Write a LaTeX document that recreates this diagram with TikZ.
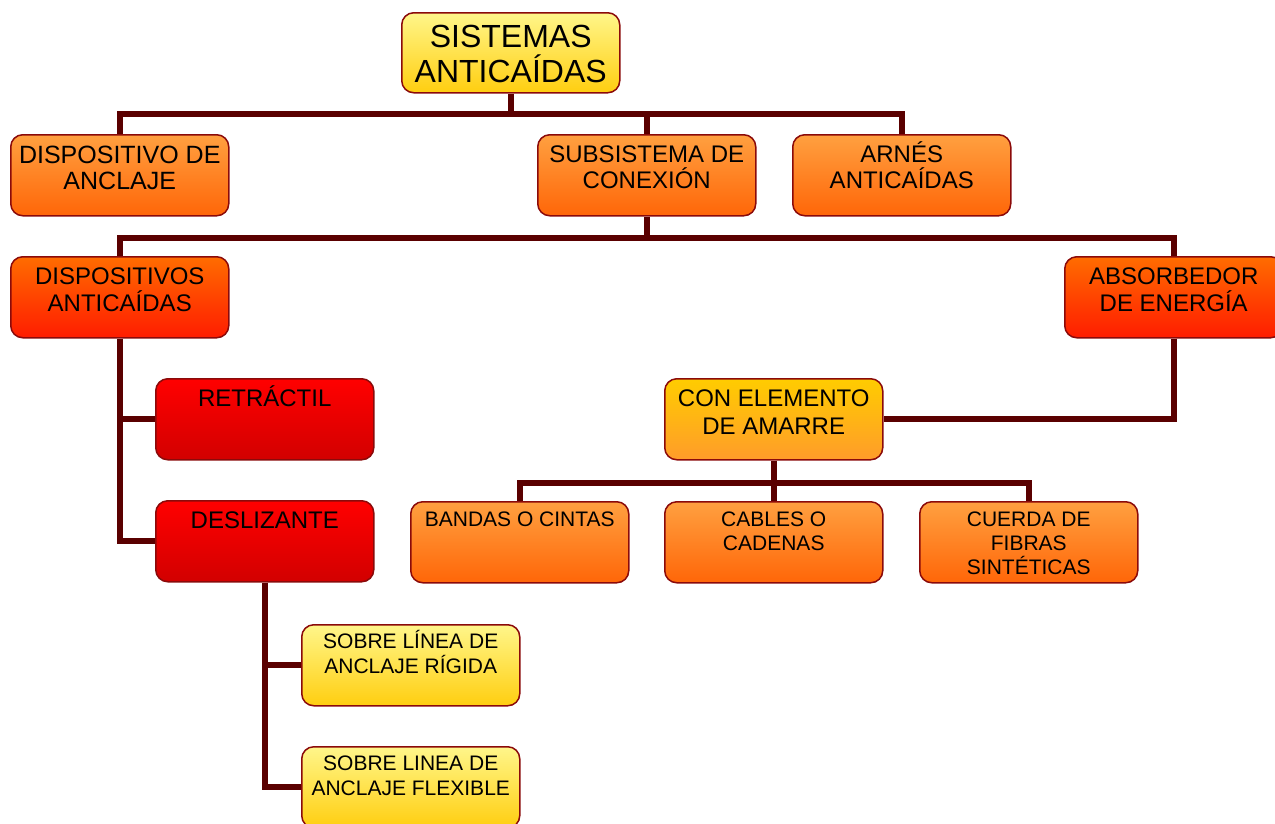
\documentclass[tikz,border=0pt]{standalone}
\usepackage{fontspec}
\setmainfont{Liberation Sans}
\usepackage{tikz}
\usetikzlibrary{positioning}
\definecolor{edge}{HTML}{8B0A0A}
\definecolor{wire}{HTML}{5A0000}
\definecolor{orTop}{HTML}{FFA040}
\definecolor{orBot}{HTML}{FF6608}
\definecolor{roTop}{HTML}{FF6C00}
\definecolor{roBot}{HTML}{FF1C00}
\definecolor{rdTop}{HTML}{FF0000}
\definecolor{rdBot}{HTML}{D20000}
\definecolor{ylTop}{HTML}{FFF68A}
\definecolor{ylBot}{HTML}{FFCE10}
\definecolor{amTop}{HTML}{FFCC00}
\definecolor{amBot}{HTML}{FF9C2A}
% text of a box: baseline offset of the first line, then the lines
\newcommand{\bx}[2]{\parbox[t][81pt][t]{218pt}{\centering\rule{0pt}{#1}#2}}
\tikzset{
box/.style={rounded corners=12pt, draw=edge, line width=1.5pt, inner sep=0pt, anchor=north west}, % every box
orange/.style={box, top color=orTop, bottom color=orBot, font=\fontsize{24}{26}\selectfont},
redorange/.style={box, top color=roTop, bottom color=roBot, font=\fontsize{24}{27}\selectfont},
red/.style={box, top color=rdTop, bottom color=rdBot, font=\fontsize{24}{27}\selectfont},
yellow/.style={box, top color=ylTop, bottom color=ylBot, font=\fontsize{21}{25}\selectfont},
amber/.style={box, top color=amTop, bottom color=amBot, font=\fontsize{24}{28}\selectfont},
small/.style={orange, font=\fontsize{21}{24}\selectfont},
link/.style={draw=wire, line width=6pt}, % the connecting lines
}

\begin{document}
\begin{tikzpicture}[x=1pt, y=-1pt]
        \useasboundingbox (0,0) rectangle (1275,823);

        \node[box, top color=ylTop, bottom color=ylBot, font=\fontsize{32}{35}\selectfont] (sis) at (401,12) {\parbox[t][80pt][t]{218pt}{\centering\rule{0pt}{35pt}SISTEMAS\\ANTICAÍDAS}};

        \node[orange, font=\fontsize{25}{26}\selectfont] (anc) at (10,134) {\bx{29pt}{DISPOSITIVO DE\\ANCLAJE}};
        \node[orange] (sub) at (537,134) {\bx{28pt}{SUBSISTEMA DE\\CONEXIÓN}};
        \node[orange] (arn) at (792,134) {\bx{28pt}{ARNÉS\\ANTICAÍDAS}};

        \node[redorange] (dis) at (10,256) {\bx{28pt}{DISPOSITIVOS\\ANTICAÍDAS}};
        \node[redorange] (abs) at (1064,256) {\bx{28pt}{ABSORBEDOR\\DE ENERGÍA}};

        \node[red] (ret) at (155,378) {\bx{28pt}{RETRÁCTIL}};
        \node[red] (des) at (155,500) {\bx{28pt}{DESLIZANTE}};
        \node[amber] (con) at (664,378) {\bx{28pt}{CON ELEMENTO\\DE AMARRE}};

        \node[small] (ban) at (410,501) {\bx{25pt}{BANDAS O CINTAS}};
        \node[small] (cab) at (664,501) {\bx{25pt}{CABLES O\\CADENAS}};
        \node[small] (cue) at (919,501) {\bx{25pt}{CUERDA DE\\FIBRAS\\SINTÉTICAS}};

        \node[yellow] (rig) at (301,624) {\bx{24pt}{SOBRE LÍNEA DE\\ANCLAJE RÍGIDA}};
        \node[yellow] (fle) at (301,746) {\bx{24pt}{SOBRE LINEA DE\\ANCLAJE FLEXIBLE}};

        \draw[link] (sis.south) -- ++(0,20) -| (anc.north)
        (sis.south) -- ++(0,20) -| (sub.north)
        (sis.south) -- ++(0,20) -| (arn.north);
        \draw[link] (sub.south) -- ++(0,21) -| (dis.north)
        (sub.south) -- ++(0,21) -| (abs.north);
        \draw[link] (dis.south) |- (ret.west)
        (dis.south) |- (des.west);
        \draw[link] (abs.south) |- (con.east);
        \draw[link] (con.south) -- ++(0,22) -| (ban.north)
        (con.south) -- ++(0,22) -| (cab.north)
        (con.south) -- ++(0,22) -| (cue.north);
        \draw[link] (des.south) |- (rig.west)
        (des.south) |- (fle.west);
\end{tikzpicture}
\end{document}
